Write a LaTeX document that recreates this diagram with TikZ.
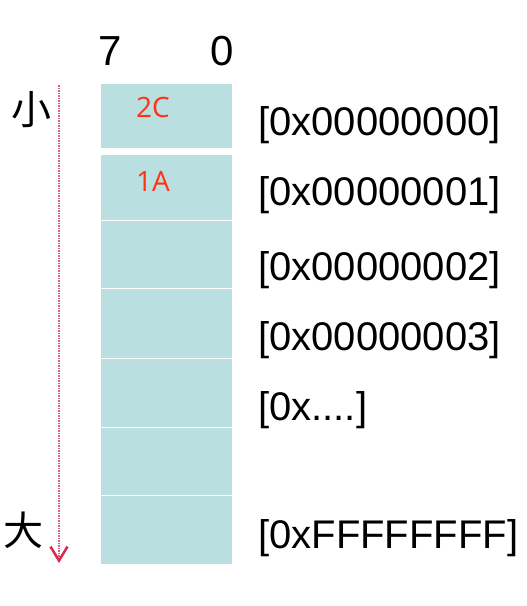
\documentclass[tikz,border=0pt]{standalone}
\usepackage{fontspec}
\setmainfont{Liberation Sans}
\newfontfamily\cjkfont{Noto Sans CJK SC}
\newfontfamily\valfont{Open Sans}
\usetikzlibrary{arrows.meta}
\begin{document}
\begin{tikzpicture}[x=1pt, y=-1pt,
  cell/.style = {fill=cellcol, minimum width=131pt, inner sep=0pt, anchor=north west},
  addr/.style = {anchor=base west, inner sep=0pt, font=\fontsize{40}{40}\selectfont},
  bit/.style = {anchor=base, inner sep=0pt, font=\fontsize{42}{42}\selectfont},
  val/.style = {inner sep=0pt, text=valcol, font=\valfont\fontsize{28}{28}\selectfont},
  side/.style = {inner sep=0pt, font=\cjkfont\fontsize{40}{40}\selectfont}]
\definecolor{cellcol}{HTML}{BADFE1}
\definecolor{valcol}{HTML}{FF3314}
\definecolor{arrcol}{HTML}{DC6080}
\definecolor{tipcol}{HTML}{DC2850}
\useasboundingbox (0,0) rectangle (527,606);
% memory cells
\foreach \top/\bot/\name in {84/148/c0, 155/219.5/c1, 221/287.5/c2, 289/357.5/c3, 359/426.5/c4, 428/494.5/c5, 496/564/c6}
  \node[cell, minimum height=\bot-\top] (\name) at (101,\top) {};
\node[val] (v0) at (153,107) {2C};
\node[val] (v1) at (153,181.5) {1A};
% bit numbers
\node[bit] (b7) at (110,65) {7};
\node[bit] (b0) at (222,65) {0};
% addresses
\node[addr] (a0) at (258,135) {[0x00000000]};
\node[addr] (a1) at (258,205) {[0x00000001]};
\node[addr] (a2) at (258,280) {[0x00000002]};
\node[addr] (a3) at (258,350) {[0x00000003]};
\node[addr] (a4) at (258,420) {[0x....]};
\node[addr] (a5) at (258,548) {[0xFFFFFFFF]};
% direction
\node[side] (small) at (31,110) {小};
\node[side] (large) at (23,530) {大};
\coordinate (top) at (59,85);
\coordinate (end) at (59,563);
\draw[arrcol, line width=2.2pt, dash pattern=on 1.5pt off 1pt,
  -{Straight Barb[length=14pt, width=17pt, line width=2.5pt, color=tipcol]}] (top) -- (end);
\end{tikzpicture}
\end{document}
